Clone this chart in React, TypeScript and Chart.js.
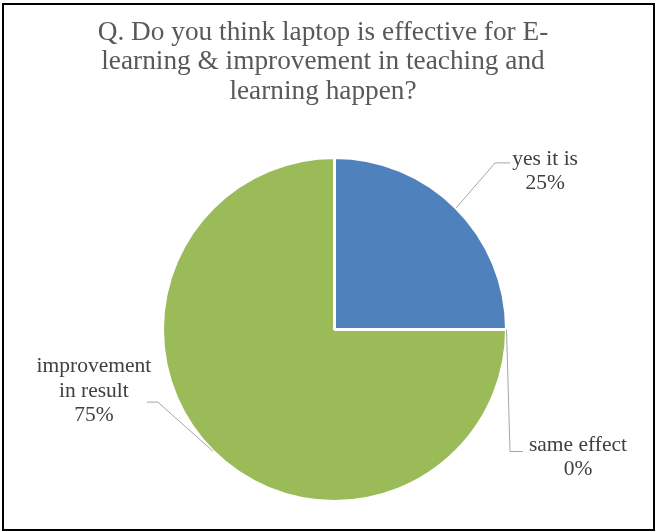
import React, { useEffect, useRef } from "react";
import { Chart, registerables } from "chart.js";

Chart.register(...registerables);

const TITLE_LINES = [
  "Q. Do you think laptop is effective for E-",
  "learning & improvement in teaching and",
  "learning happen?",
];
const CATEGORIES = ["yes it is", "same effect", "improvement in result"];
const CATEGORY_LINES = [["yes it is"], ["same effect"], ["improvement", "in result"]];
const VALUES = [25, 0, 75];
const COLORS = ["#4F81BD", "#9BBB59", "#9BBB59"];

// leader-line / label layout relative to the slice's outer mid point
const LABEL_LAYOUT = [
  { elbow: [39, -45], end: [54, -45], textDx: 35, textDy: 2 },
  { elbow: [3.5, 122], end: [16.5, 122], textDx: 55, textDy: -1 },
  { elbow: [-55, -49], end: [-66, -49], textDx: -53, textDy: -30 },
];

const SERIF = "'Liberation Serif', 'Times New Roman', serif";

const titlePlugin = {
  id: "customTitle",
  afterDraw(chart: any) {
    const ctx = chart.ctx;
    ctx.save();
    ctx.font = `27.3px ${SERIF}`;
    ctx.fillStyle = "#595959";
    ctx.textAlign = "center";
    ctx.textBaseline = "alphabetic";
    TITLE_LINES.forEach((line, i) => {
      ctx.fillText(line, 323, 39.5 + i * 29.5);
    });
    ctx.restore();
  },
};

const labelPlugin = {
  id: "pieLabels",
  afterDatasetsDraw(chart: any) {
    const ctx = chart.ctx;
    const meta = chart.getDatasetMeta(0);
    const data = chart.data.datasets[0].data as number[];
    const total = data.reduce((a, b) => a + b, 0);
    ctx.save();
    meta.data.forEach((arc: any, i: number) => {
      const p = arc.getProps(["x", "y", "startAngle", "endAngle", "outerRadius"], true);
      const mid = (p.startAngle + p.endAngle) / 2;
      const ex = p.x + Math.cos(mid) * p.outerRadius;
      const ey = p.y + Math.sin(mid) * p.outerRadius;
      const L = LABEL_LAYOUT[i];
      ctx.strokeStyle = "#a6a6a6";
      ctx.lineWidth = 1;
      ctx.beginPath();
      ctx.moveTo(ex, ey);
      ctx.lineTo(ex + L.elbow[0], ey + L.elbow[1]);
      ctx.lineTo(ex + L.end[0], ey + L.end[1]);
      ctx.stroke();
      const tx = ex + L.end[0] + L.textDx;
      const ty = ey + L.end[1] + L.textDy;
      const pct = Math.round((data[i] / total) * 100) + "%";
      const lines = [...CATEGORY_LINES[i], pct];
      ctx.font = `21.5px ${SERIF}`;
      ctx.fillStyle = "#404040";
      ctx.textAlign = "center";
      ctx.textBaseline = "alphabetic";
      lines.forEach((t, k) => ctx.fillText(t, tx, ty + k * 24.5));
    });
    ctx.restore();
  },
};

export default function App() {
  const ref = useRef<HTMLCanvasElement>(null);
  useEffect(() => {
    const chart = new Chart(ref.current!, {
      type: "pie",
      data: {
        labels: CATEGORIES,
        datasets: [
          {
            data: VALUES,
            backgroundColor: COLORS,
            borderColor: "#ffffff",
            borderWidth: 3,
          },
        ],
      },
      options: {
        animation: false,
        responsive: false,
        layout: { padding: { left: 161, right: 149, top: 156, bottom: 28 } },
        plugins: {
          legend: { display: false },
          title: { display: false },
          tooltip: { enabled: false },
        },
      },
      plugins: [titlePlugin, labelPlugin],
    });
    return () => chart.destroy();
  }, []);
  return (
    <div style={{ position: "absolute", left: 0, top: 0, width: 657, height: 531, background: "#fff" }}>
      <canvas ref={ref} width={657} height={531} style={{ position: "absolute", left: 0, top: 0 }} />
      <div
        style={{
          position: "absolute",
          left: 2,
          top: 3,
          width: 653,
          height: 528,
          border: "2px solid #000",
          boxSizing: "border-box",
          pointerEvents: "none",
        }}
      />
    </div>
  );
}
